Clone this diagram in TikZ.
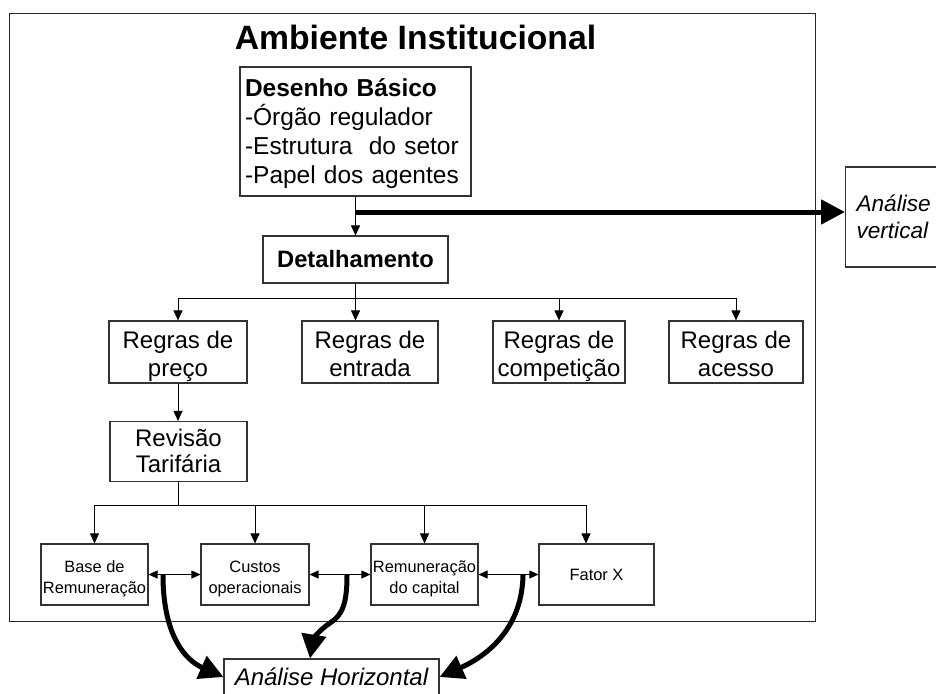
\documentclass[tikz,border=0pt]{standalone}
\usepackage{fontspec}
\setmainfont{Liberation Sans}
\usetikzlibrary{arrows.meta,calc}
\newcommand{\TopStrut}[1]{\rule{0pt}{#1pt}}
\newcommand{\BotStrut}[1]{\rule[-#1pt]{0pt}{#1pt}}
\tikzset{
  box/.style={draw=black!80, line width=1.1pt, inner sep=0pt, align=center},
  conn/.style={-{Triangle[length=10pt,width=9pt]}, line width=0.9pt},
  dbl/.style={{Triangle[length=9pt,width=8pt]}-{Triangle[length=9pt,width=8pt]}, line width=0.9pt},
  thickarr/.style={-{Triangle[length=24pt,width=24pt]}, line width=5pt},
  bodyfont/.style={font=\fontsize{24}{28}\selectfont},
  smallfont/.style={font=\fontsize{16.4}{21}\selectfont},
  regra/.style={box, bodyfont, minimum height=62pt},
  sbox/.style={box, smallfont, minimum height=61pt},
}
\begin{document}
\begin{tikzpicture}[x=1pt,y=-1pt]
\useasboundingbox (0,0) rectangle (936,693);
\clip (0,0) rectangle (936,693);
\fill[white] (0,0) rectangle (936,693);

% outer environment
\node[draw=black!85, line width=1pt, minimum width=806pt, minimum height=607pt, inner sep=0pt] (env) at (412,317.5) {};
\node[font=\fontsize{33.7}{36}\selectfont\bfseries, anchor=base, inner sep=0pt] (title) at (415.5,50) {Ambiente Institucional};

% top boxes
\node[box, minimum width=231pt, minimum height=129pt, text width=221pt, align=left,
      font=\fontsize{24.5}{28.7}\selectfont] (desenho) at (355.5,131.5)
  {\TopStrut{24}\textbf{Desenho Básico}\\-Órgão regulador\\-Estrutura~ do setor\\-Papel dos agentes\BotStrut{7}};
\node[box, minimum width=185pt, minimum height=47pt, font=\fontsize{23.7}{28}\selectfont\bfseries] (det) at (355.5,259.5) {Detalhamento};

\node[regra, minimum width=138pt] (preco) at (178,352) {\TopStrut{26}Regras de\\preço\BotStrut{6}};
\node[regra, minimum width=136pt] (entrada) at (370,352) {\TopStrut{26}Regras de\\entrada\BotStrut{6}};
\node[regra, minimum width=132pt] (compet) at (559,352) {\TopStrut{26}Regras de\\competição\BotStrut{6}};
\node[regra, minimum width=134pt] (acesso) at (736,352) {\TopStrut{26}Regras de\\acesso\BotStrut{6}};

\node[box, font=\fontsize{24}{25.5}\selectfont, minimum width=137pt, minimum height=60pt] (rev) at (178.5,451.5) {\TopStrut{21.5}Revisão\\Tarifária\BotStrut{6}};

\node[sbox, minimum width=107pt] (base) at (94.5,574.5) {\TopStrut{21}Base de\\Remuneração\BotStrut{5}};
\node[sbox, minimum width=108pt] (custos) at (255,574.5) {\TopStrut{21}Custos\\operacionais\BotStrut{5}};
\node[sbox, minimum width=107pt] (remun) at (424.5,574.5) {\TopStrut{21}Remuneração\\do capital\BotStrut{5}};
\node[sbox, minimum width=115pt] (fator) at (596.5,574.5) {Fator X};

\node[box, font=\fontsize{24}{28}\selectfont\itshape, minimum width=215pt, minimum height=36pt] (ah) at (331.5,677) {Análise Horizontal};
\node[box, anchor=west, font=\fontsize{22.6}{27}\selectfont\itshape, minimum height=100pt, text width=100pt, align=left, inner xsep=11pt] (av) at (845,217) {\TopStrut{22.5}Análise\\vertical\BotStrut{6}};

% connectors
\draw[conn] (desenho.south) -- (det.north);
\coordinate (va) at (355.5,212);
\draw[thickarr] (va) -- (va -| av.west);

\coordinate (bus1) at (355.5,298);
\draw[line width=0.9pt] (det.south) -- (bus1);
\draw[line width=0.9pt] (bus1 -| preco.north) -- (bus1 -| acesso.north);
\draw[conn] (bus1 -| preco.north) -- (preco.north);
\draw[conn] (bus1) -- (bus1 |- entrada.north);
\draw[conn] (bus1 -| compet.north) -- (compet.north);
\draw[conn] (bus1 -| acesso.north) -- (acesso.north);

\draw[conn] (preco.south) -- (preco.south |- rev.north);

\coordinate (bus2) at (178.5,505);
\coordinate (fx) at ([xshift=-10.5pt]fator.north);
\draw[line width=0.9pt] (rev.south) -- (bus2);
\draw[line width=0.9pt] (bus2 -| base.north) -- (bus2 -| fx);
\draw[conn] (bus2 -| base.north) -- (base.north);
\draw[conn] (bus2 -| custos.north) -- (custos.north);
\draw[conn] (bus2 -| remun.north) -- (remun.north);
\draw[conn] (bus2 -| fx) -- (fx);

\draw[dbl] (base.east) -- (custos.west);
\draw[dbl] (custos.east) -- (remun.west);
\draw[dbl] (remun.east) -- (fator.west);

\coordinate (h1) at (163,575);
\coordinate (h2) at (347,575);
\coordinate (h3) at (523,575);
\draw[thickarr] (h1) .. controls (163,635) and (185,660) .. (ah.west);
\draw[thickarr] (h2) .. controls (347,605) and (342,615) .. (330,623) .. controls (318,631) and (313,640) .. ([xshift=-21.5pt]ah.north);
\draw[thickarr] (h3) .. controls (522,635) and (478,660) .. (ah.east);
\end{tikzpicture}
\end{document}
